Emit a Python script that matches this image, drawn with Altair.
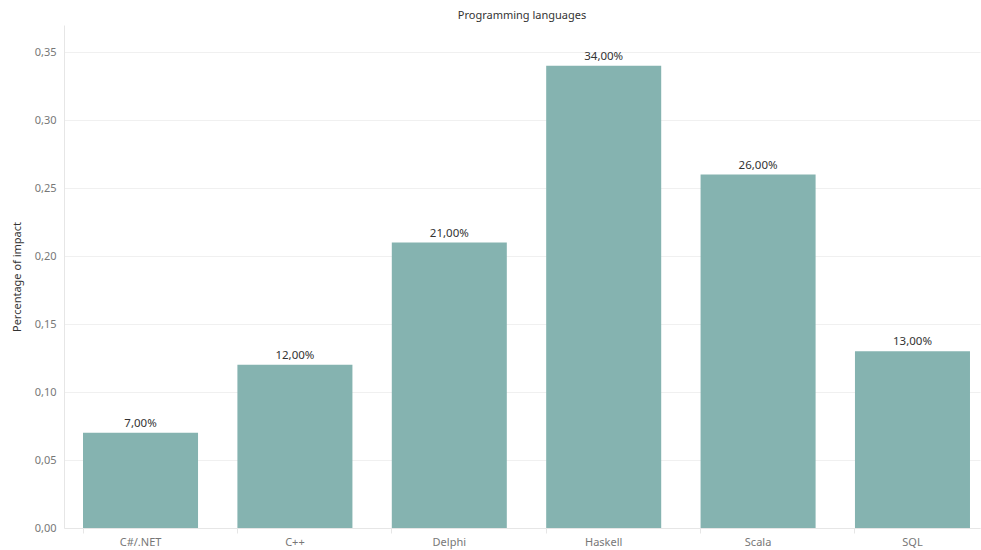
import altair as alt
import pandas as pd

languages = ["C#/.NET", "C++", "Delphi", "Haskell", "Scala", "SQL"]
impact = [0.07, 0.12, 0.21, 0.34, 0.26, 0.13]

df = pd.DataFrame({"language": languages, "impact": impact})

FONT = "Noto Sans"

base = alt.Chart(df).encode(
    x=alt.X("language:N", sort=languages, title=None,
            scale=alt.Scale(paddingInner=0.255, paddingOuter=0.094, align=0.655),
            axis=alt.Axis(labelAngle=0, labelColor="#777777", labelFontSize=11, labelFont=FONT,
                          domainColor="#e6e6e6", tickColor="#e6e6e6", tickSize=5,
                          bandPosition=0, labelPadding=3, grid=False)),
    y=alt.Y("impact:Q", title="Percentage of impact",
            scale=alt.Scale(domain=[0, 0.37], nice=False),
            axis=alt.Axis(values=[0, 0.05, 0.1, 0.15, 0.2, 0.25, 0.3, 0.35],
                          labelExpr="replace(format(datum.value, '.2f'), '.', ',')",
                          labelColor="#777777", labelFontSize=11, labelFont=FONT,
                          titleColor="#333333", titleFontSize=11, titleFont=FONT, titleFontWeight="normal",
                          titlePadding=12,
                          domainColor="#e6e6e6", ticks=False, labelPadding=8,
                          gridColor="#f0f0f0")),
)

bars = base.mark_bar(color="#85b3b0")

labels = base.transform_calculate(
    lbl="replace(format(datum.impact * 100, '.2f'), '.', ',') + '%'"
).mark_text(dy=-9, fontSize=11.5, font=FONT, color="#333333").encode(text="lbl:N")

chart = (bars + labels).properties(
    width=916, height=503,
    padding={"left": 64, "top": 25, "right": 1, "bottom": 22},
    autosize=alt.AutoSizeParams(type="none"),
    title=alt.TitleParams("Programming languages", fontSize=11, font=FONT, fontWeight="normal",
                          color="#333333", offset=4, anchor="middle"),
).configure(background="white", view=alt.ViewConfig(stroke="transparent", strokeWidth=0))

chart.save("out.html", embed_options={"renderer": "svg", "actions": False})
